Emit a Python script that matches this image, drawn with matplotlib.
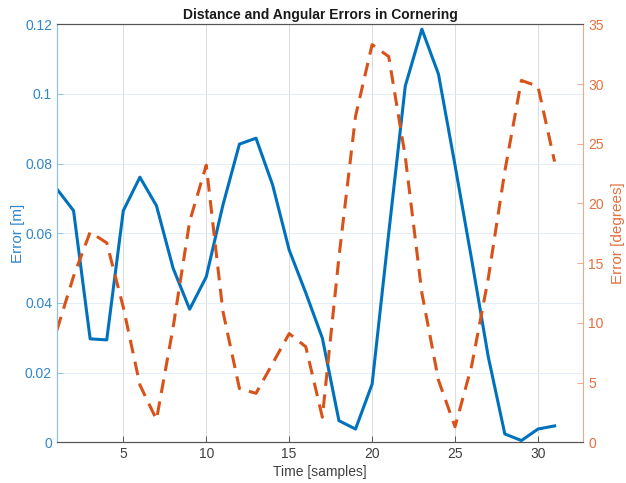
import matplotlib
matplotlib.use("Agg")
import matplotlib.pyplot as plt

plt.rcParams["font.family"] = ["Liberation Sans", "DejaVu Sans"]

BLUE = "#0072BD"
ORANGE = "#D95319"
BLUE_TXT = "#2f86cc"
ORANGE_TXT = "#e2703f"

samples = list(range(1, 32))
dist_err = [0.0727, 0.0665, 0.0297, 0.0294, 0.0665, 0.0761, 0.0679, 0.0500,
            0.0382, 0.0475, 0.0680, 0.0856, 0.0873, 0.0739, 0.0552, 0.0429,
            0.0299, 0.0062, 0.0038, 0.0167, 0.0600, 0.1023, 0.1186, 0.1057,
            0.0795, 0.0525, 0.0246, 0.0024, 0.0005, 0.0038, 0.0047]
ang_err = [9.4, 13.9, 17.6, 16.7, 11.3, 4.8, 1.9, 9.6, 18.5, 23.2,
           11.0, 4.5, 4.1, 6.6, 9.1, 8.0, 2.1, 15.5, 27.3, 33.3,
           32.3, 23.9, 12.5, 5.2, 1.3, 6.4, 13.7, 22.7, 30.3, 29.8, 23.5]

fig = plt.figure(figsize=(6.26, 4.83), dpi=100)
ax = fig.add_axes([0.091, 0.0843, 0.841, 0.8654])
ax2 = ax.twinx()

ax.plot(samples, dist_err, color=BLUE, lw=2.2, zorder=3)
ax2.plot(samples, ang_err, color=ORANGE, lw=2.2, ls=(0, (4.5, 2.8)))

ax.set_xlim(1, 32.74)
ax.set_ylim(0, 0.12)
ax2.set_ylim(0, 35)
ax.set_xticks([5, 10, 15, 20, 25, 30])
ax.set_yticks([0, 0.02, 0.04, 0.06, 0.08, 0.1, 0.12])
ax.set_yticklabels(["0", "0.02", "0.04", "0.06", "0.08", "0.1", "0.12"])
ax2.set_yticks([0, 5, 10, 15, 20, 25, 30, 35])

ax.grid(True, axis="x", color="#dcdcdc", lw=0.7)
ax.grid(True, axis="y", color="#e4eef8", lw=0.7)
ax.set_axisbelow(True)

for a in (ax, ax2):
    a.tick_params(direction="in", length=4, width=0.7, labelsize=10)
ax.tick_params(axis="x", colors="#555555", labelcolor="#404040", top=False)
ax.tick_params(axis="y", colors="#8ec1e8", labelcolor=BLUE_TXT)
ax2.tick_params(axis="y", colors="#f0a888", labelcolor=ORANGE_TXT)

ax.spines["left"].set_color("#8ec1e8")
ax2.spines["left"].set_color("#8ec1e8")
ax2.spines["right"].set_color("#f0a888")
ax.spines["right"].set_visible(False)
for a in (ax, ax2):
    a.spines["top"].set_color("#555555")
    a.spines["bottom"].set_color("#555555")
    for s in a.spines.values():
        s.set_linewidth(0.8)

ax.set_xlabel("Time [samples]", color="#404040", fontsize=10, labelpad=3)
ax.set_ylabel("Error [m]", color=BLUE_TXT, fontsize=11, labelpad=0)
ax2.set_ylabel("Error [degrees]", color=ORANGE_TXT, fontsize=11, labelpad=5)
ax.set_title("Distance and Angular Errors in Cornering", fontsize=10,
             fontweight="bold", color="#1a1a1a", pad=4)

fig.savefig("out.png", dpi=100)
